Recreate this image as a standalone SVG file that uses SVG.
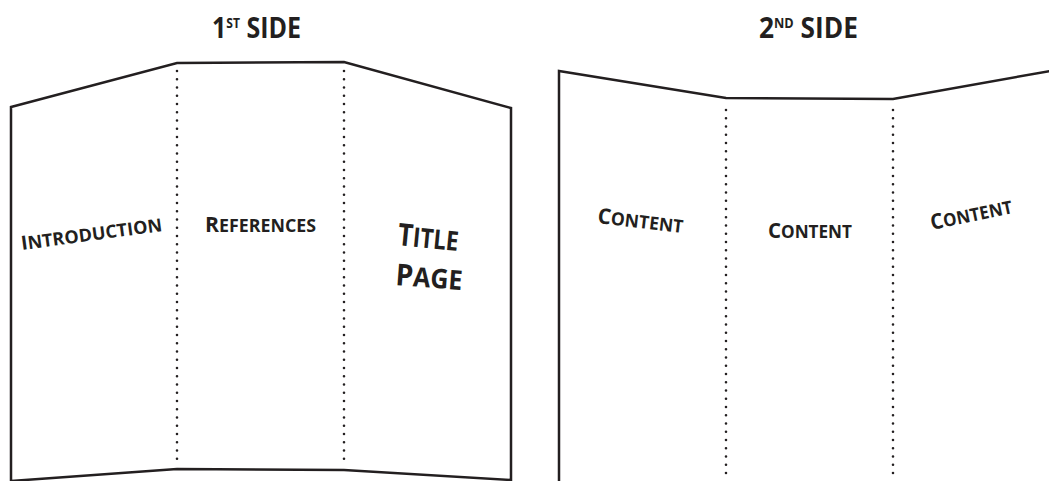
<svg xmlns="http://www.w3.org/2000/svg" width="1049" height="481" viewBox="0 0 1049 481">
<style>
.edge{fill:none;stroke:#231f20;stroke-width:2.5;stroke-linejoin:miter}
.fold{fill:none;stroke:#231f20;stroke-width:2.6;stroke-linecap:round;stroke-dasharray:0 8.25}
.t{font-family:"Open Sans","Liberation Sans",sans-serif;fill:#231f20}
.title{font-size:28px;font-weight:700}
.sup{font-size:13.5px;font-weight:700}
.lab{font-weight:700}
.cap{font-size:21.5px}
.sc{font-size:18px}
</style>
<rect width="1049" height="481" fill="#fff"/>
<g id="side1">
  <polygon class="edge" points="11,107 177,63 344,62 511,108 511,480 344,470 177,469 11,481"/>
  <line class="fold" x1="177" y1="71" x2="177" y2="464"/>
  <line class="fold" x1="344" y1="71" x2="344" y2="464"/>
  <text class="t title" x="212" y="38" textLength="89" lengthAdjust="spacingAndGlyphs">1<tspan class="sup" dy="-10">ST</tspan><tspan dy="10"> SIDE</tspan></text>
</g>
<g id="side2">
  <polyline class="edge" points="559,482 559,71 726,98 893,99 1050,71"/>
  <line class="fold" x1="726" y1="110" x2="726" y2="481"/>
  <line class="fold" x1="893" y1="110" x2="893" y2="481"/>
  <text class="t title" x="759" y="38" textLength="99" lengthAdjust="spacingAndGlyphs">2<tspan class="sup" dy="-10">ND</tspan><tspan dy="10"> SIDE</tspan></text>
</g>
<g id="introduction">
  <text class="t lab" transform="rotate(-7.7 22 250)" x="22" y="250" textLength="142" lengthAdjust="spacingAndGlyphs"><tspan font-size="19.5px">I</tspan><tspan class="sc">NTRODUCTION</tspan></text>
</g>
<g id="references">
  <text class="t lab" x="205" y="232" textLength="111" lengthAdjust="spacingAndGlyphs"><tspan class="cap">R</tspan><tspan class="sc">EFERENCES</tspan></text>
</g>
<g id="title-page">
  <text class="t lab" transform="rotate(5.6 397 245)" x="397" y="245" textLength="61" lengthAdjust="spacingAndGlyphs"><tspan font-size="31px">T</tspan><tspan font-size="27px">ITLE</tspan></text>
  <text class="t lab" transform="rotate(4.3 395 285)" x="395" y="285" textLength="67" lengthAdjust="spacingAndGlyphs"><tspan font-size="30px">P</tspan><tspan font-size="27px">AGE</tspan></text>
</g>
<g id="content-1">
  <text class="t lab" transform="rotate(6.7 597 223)" x="597" y="223" textLength="86" lengthAdjust="spacingAndGlyphs"><tspan class="cap">C</tspan><tspan class="sc">ONTENT</tspan></text>
</g>
<g id="content-2">
  <text class="t lab" x="768" y="238" textLength="84" lengthAdjust="spacingAndGlyphs"><tspan class="cap">C</tspan><tspan class="sc">ONTENT</tspan></text>
</g>
<g id="content-3">
  <text class="t lab" transform="rotate(-11.8 932 230)" x="932" y="230" textLength="83" lengthAdjust="spacingAndGlyphs"><tspan class="cap">C</tspan><tspan class="sc">ONTENT</tspan></text>
</g>
<g id="connectors"></g>
</svg>
